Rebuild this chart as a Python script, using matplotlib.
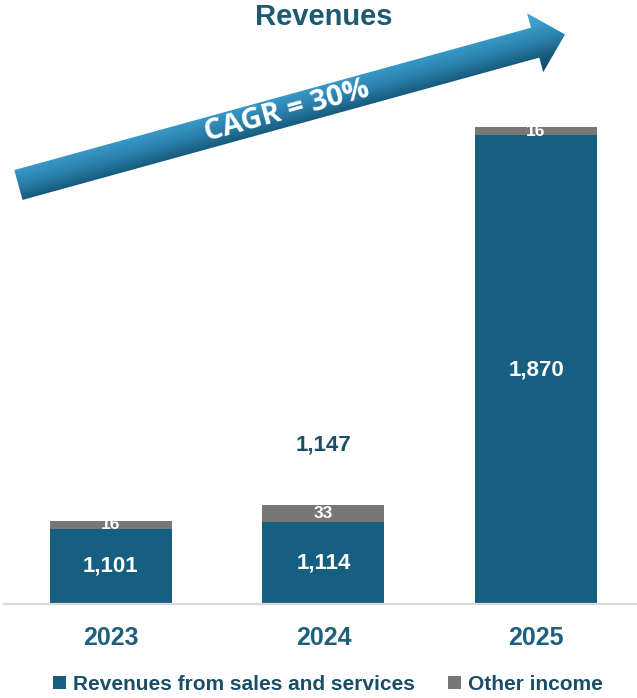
import numpy as np
import matplotlib
matplotlib.use('Agg')
import matplotlib.pyplot as plt
from matplotlib.colors import LinearSegmentedColormap
from matplotlib.patches import Polygon

plt.rcParams['font.family'] = 'Liberation Sans'
plt.rcParams['font.weight'] = 'bold'

YEARS = ['2023', '2024', '2025']
SALES = [1101, 1114, 1870]
OTHER = [16, 33, 16]
SERIES_LABELS = ['Revenues from sales and services', 'Other income']
TOTAL_SHOWN = ['2024']
TITLE = 'Revenues'
CAGR_TEXT = 'CAGR = 30%'

BLUE = '#175F80'
GREY = '#777777'
TITLE_COLOR = '#1D5A72'
TICK_COLOR = '#1F5F7E'
DARK_TEXT = '#1A4E66'

W, H = 637, 698
Y_FLOOR = 954     # value axis is truncated, bars start below the baseline
Y_CEIL = 2134


def draw_bars(ax):
    x = np.arange(len(YEARS))
    sales = np.array(SALES)
    other = np.array(OTHER)
    bars_sales = ax.bar(x, sales, width=0.574, color=BLUE, linewidth=0)
    bars_other = ax.bar(x, other, bottom=sales, width=0.574, color=GREY, linewidth=0)

    ax.set_xlim(-0.503, 2.475)
    ax.set_ylim(Y_FLOOR, Y_CEIL)
    for side in ['top', 'left', 'right']:
        ax.spines[side].set_visible(False)
    ax.spines['bottom'].set_color('#D9D9D9')
    ax.spines['bottom'].set_linewidth(1.6)
    ax.set_yticks([])
    ax.set_xticks(x, YEARS)
    ax.tick_params(axis='x', length=0, pad=16, labelsize=18, labelcolor=TICK_COLOR)

    for i in range(len(YEARS)):
        lo = max(0, Y_FLOOR)
        ax.text(x[i], (lo + sales[i]) / 2, f'{sales[i]:,}', ha='center', va='center',
                color='white', fontsize=16, fontweight='bold')
        ax.text(x[i], sales[i] + other[i] / 2, f'{other[i]:,}', ha='center', va='center',
                color='white', fontsize=12.5, fontweight='bold')
        if YEARS[i] in TOTAL_SHOWN:
            total = sales[i] + other[i]
            ax.annotate(f'{total:,}', xy=(x[i], total), xytext=(0, 43),
                        textcoords='offset points', ha='center', va='center',
                        color=DARK_TEXT, fontsize=16, fontweight='bold')
    return bars_sales, bars_other


def draw_arrow(ov):
    # growth arrow, drawn in pixel space of the overlay axes (y grows downward)
    ang = np.deg2rad(15.4)
    u = np.array([np.cos(ang), -np.sin(ang)])
    n = np.array([np.sin(ang), np.cos(ang)])
    tail = np.array([18.4, 185.0])
    shaft_len, tip_len = 536.0, 567.0
    half_shaft, half_head = 15.5, 30.5

    base = tail + u * shaft_len
    pts = [
        tail - n * half_shaft,
        base - n * half_shaft,
        base - n * half_head,
        tail + u * tip_len,
        base + n * half_head,
        base + n * half_shaft,
        tail + n * half_shaft,
    ]
    poly = Polygon(pts, closed=True, facecolor='none', edgecolor='none')
    ov.add_patch(poly)

    cmap = LinearSegmentedColormap.from_list('arrow', [
        (0.0, '#4AAAD8'),
        (0.25, '#3898C6'),
        (0.5, '#2A80AB'),
        (0.75, '#175B7C'),
        (1.0, '#0F4966'),
    ])
    xs = np.arange(0, W)
    ys = np.arange(0, 260)
    X, Y = np.meshgrid(xs + 0.5, ys + 0.5)
    t = (X - tail[0]) * n[0] + (Y - tail[1]) * n[1]
    img = ov.imshow(t, extent=(0, W, 260, 0), cmap=cmap, vmin=-half_head, vmax=half_head,
                    interpolation='bilinear', aspect='auto', zorder=2)
    img.set_clip_path(poly)

    mid = tail + u * 279
    ov.text(mid[0], mid[1], CAGR_TEXT, rotation=15.4, rotation_mode='anchor',
            ha='center', va='center', color='white', fontsize=21, fontweight='bold',
            fontstyle='normal', family='Open Sans', zorder=3)


fig = plt.figure(figsize=(W / 100, H / 100), dpi=100)
fig.patch.set_facecolor('white')

ax = fig.add_axes([4 / W, 1 - 604 / H, 633 / W, 604 / H])
bars_sales, bars_other = draw_bars(ax)

ov = fig.add_axes([0, 0, 1, 1], zorder=5)
ov.axis('off')
draw_arrow(ov)
ov.set_xlim(0, W)
ov.set_ylim(H, 0)
ov.text(324, 17, TITLE, ha='center', va='center', color=TITLE_COLOR,
        fontsize=21, fontweight='bold')

fig.legend([bars_sales, bars_other], SERIES_LABELS, loc='center',
           bbox_to_anchor=(328 / W, 1 - 684 / H), ncol=2, frameon=False,
           fontsize=15, labelcolor=DARK_TEXT, handlelength=0.6, handleheight=0.6,
           handletextpad=0.35, columnspacing=1.6)

fig.savefig('out.png', dpi=100)
